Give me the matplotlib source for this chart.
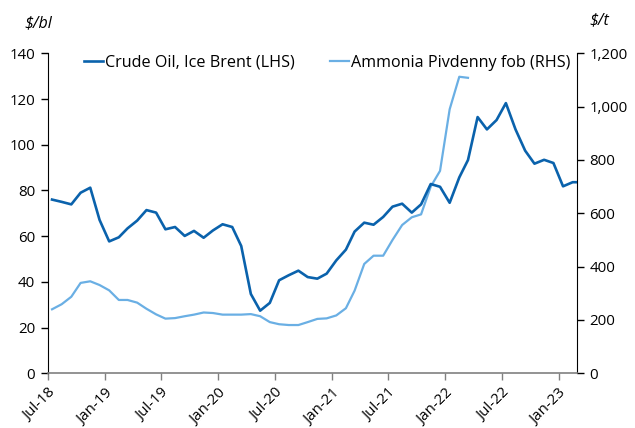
import matplotlib
matplotlib.use('Agg')
import matplotlib.pyplot as plt
import matplotlib.dates as mdates
import matplotlib.ticker as ticker
import pandas as pd

plt.rcParams['font.family'] = ['Open Sans', 'DejaVu Sans']

# monthly averages, plotted mid-month (Jun-18 only there so the line reaches the axis edge)
brent_months = pd.date_range('2018-06-15', periods=57, freq='MS') + pd.Timedelta(days=14)
brent = [76.0,
         75.0, 73.9, 79.0, 81.2, 67.1, 57.7, 59.5, 63.4, 66.8, 71.4, 70.3, 63.0,
         64.0, 60.1, 62.3, 59.3, 62.5, 65.2, 64.0, 55.7, 34.7, 27.4, 30.8, 40.7,
         42.9, 44.9, 42.1, 41.4, 43.6, 49.4, 54.1, 62.0, 65.9, 65.0, 68.4, 72.9,
         74.2, 70.3, 73.9, 82.8, 81.6, 74.6, 85.7, 93.3, 112.1, 106.7, 110.8, 118.2,
         106.7, 97.4, 91.7, 93.4, 92.0, 81.8, 83.6, 83.6]

ammonia_months = brent_months[:45]
ammonia = [240,
           259, 287, 339, 345, 331, 311, 275, 275, 265, 242, 221, 205,
           207, 214, 220, 228, 226, 220, 220, 220, 222, 214, 192, 184,
           181, 181, 192, 204, 206, 217, 244, 310, 410, 441, 441, 500,
           556, 585, 596, 700, 759, 990, 1112, 1108]

tick_dates = pd.date_range('2018-07-01', '2023-01-01', freq='6MS')

dark_blue = '#0A62AC'
light_blue = '#6AAFE4'

fig = plt.figure(figsize=(6.35, 4.28), dpi=100)
ax = fig.add_axes([0.0751, 0.1278, 0.8336, 0.7477])
ax2 = ax.twinx()

l1, = ax.plot(brent_months, brent, color=dark_blue, lw=1.9, label='Crude Oil, Ice Brent (LHS)', zorder=3)
l2, = ax2.plot(ammonia_months, ammonia, color=light_blue, lw=1.6, label='Ammonia Pivdenny fob (RHS)', zorder=2)
ax.set_zorder(ax2.get_zorder() + 1)
ax.patch.set_visible(False)

ax.set_xlim(pd.Timestamp('2018-07-01'), pd.Timestamp('2023-03-01'))
ax.set_ylim(0, 140)
ax2.set_ylim(0, 1200)
ax.yaxis.set_major_locator(ticker.MultipleLocator(20))
ax2.yaxis.set_major_locator(ticker.MultipleLocator(200))
ax2.yaxis.set_major_formatter(ticker.FuncFormatter(lambda v, p: '{:,.0f}'.format(v)))

ax.set_xticks(tick_dates)
ax.xaxis.set_major_formatter(mdates.DateFormatter('%b-%y'))
for lab in ax.get_xticklabels():
    lab.set_rotation(45)
    lab.set_ha('right')
    lab.set_rotation_mode('anchor')

for a in (ax, ax2):
    a.spines['top'].set_visible(False)
    a.tick_params(labelsize=10.8, length=5, width=1, pad=4)
ax.spines['right'].set_visible(False)
ax2.spines['left'].set_visible(False)
ax2.spines['bottom'].set_visible(False)
ax.spines['bottom'].set_color('#808080')
ax.spines['bottom'].set_linewidth(1.2)
ax.tick_params(axis='x', colors='#808080', labelcolor='black')

fig.text(0.039, 0.945, '$/bl', fontsize=11.5, style='italic', ha='left', va='center')
fig.text(0.928, 0.952, '$/t', fontsize=11.5, style='italic', ha='left', va='center')

ax.legend(handles=[l1, l2], ncol=2, frameon=False, loc='upper center',
          bbox_to_anchor=(0.528, 1.04), fontsize=11.6, handlelength=1.2,
          handletextpad=0.1, columnspacing=2.2)

plt.savefig('out.png', dpi=100)
